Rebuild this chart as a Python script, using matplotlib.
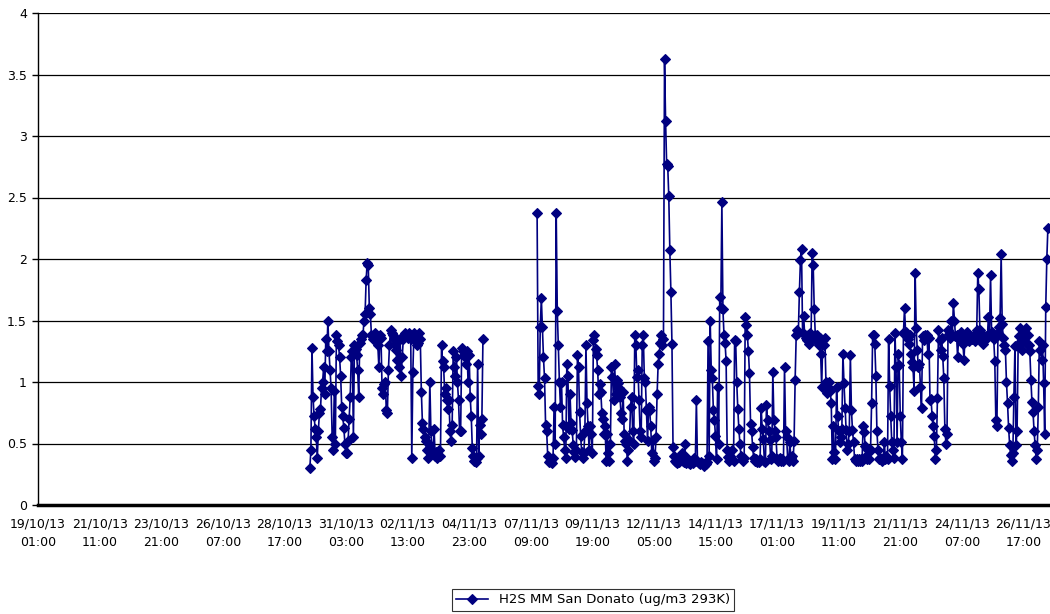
import matplotlib
matplotlib.use("Agg")
import matplotlib.pyplot as plt
import matplotlib.dates as mdates
from matplotlib.ticker import FixedLocator
import numpy as np
import pandas as pd

# hourly H2S readings (ug/m3), two recorded stretches separated by a gap
AXIS_START = "2013-10-19 01:00"
AXIS_HOURS = 953
TICK_STEP_HOURS = 58

SEG1_START = "2013-10-29 17:00"
SEG1_VALUES = [
    0.30, 0.45, 1.28, 0.88, 0.72, 0.62, 0.55, 0.38, 0.60, 0.75,
    0.78, 0.95, 1.00, 1.12, 0.90, 1.35, 1.25, 1.50, 1.25, 1.10,
    0.95, 0.55, 0.45, 0.93, 0.50, 1.38, 1.33, 1.30, 1.20, 1.05,
    0.80, 0.72, 0.63, 0.50, 0.42, 0.42, 0.52, 0.70, 0.88, 1.20,
    1.25, 0.55, 1.30, 1.27, 1.22, 1.10, 0.88, 1.32, 1.35, 1.38,
    1.38, 1.50, 1.55, 1.83, 1.97, 1.95, 1.60, 1.55, 1.38, 1.35,
    1.38, 1.40, 1.37, 1.35, 1.30, 1.12, 1.38, 1.36, 0.95, 0.90,
    0.98, 1.00, 0.77, 0.75, 1.10, 1.30, 1.42, 1.40, 1.38, 1.35,
    1.30, 1.26, 1.18, 1.33, 1.12, 1.35, 1.05, 1.20, 1.35, 1.38,
    1.40, 1.37, 1.36, 1.40, 1.38, 1.35,
    0.38,
    1.08, 1.40, 1.38, 1.35, 1.30, 1.32, 1.40, 1.35, 0.92, 0.67,
    0.62, 0.55, 0.52, 0.45, 0.38, 0.50, 1.00, 0.60, 0.45, 0.42,
    0.62, 0.40, 0.43, 0.38, 0.40, 0.45, 0.40, 1.30, 1.17, 1.12,
    0.90, 0.95, 0.85, 0.78, 0.85, 0.60, 0.52, 0.65, 1.25, 1.12,
    1.05, 1.20, 1.00, 0.85, 0.60, 0.60, 1.28, 1.25, 1.22, 1.20,
    1.15, 1.25, 1.00, 1.22, 0.88, 0.72, 0.46, 0.40, 0.36, 0.35,
    0.38, 1.15, 0.40, 0.65, 0.58, 0.70, 1.35,
]

SEG2_START = "2013-11-07 15:00"
SEG2_VALUES = [
    2.37, 0.97, 0.90, 1.45, 1.68, 1.45, 1.20, 1.03, 0.65, 0.60,
    0.40, 0.35, 0.36, 0.35, 0.34, 0.38, 0.80, 0.50, 2.37, 1.58,
    1.30, 1.00, 0.80, 1.00, 0.65, 0.55, 0.45, 0.38, 1.15, 1.05,
    0.62, 0.90, 0.67, 0.61, 0.49, 0.43, 0.39, 0.45, 1.22, 1.12,
    0.76, 0.56, 0.43, 0.38, 0.42, 0.60, 1.30, 0.83, 0.64, 0.45,
    0.64, 0.58, 0.42, 1.34, 1.38, 1.27, 1.22, 1.10, 0.90, 0.98,
    0.92, 0.75, 0.70, 0.58, 0.64, 0.36, 0.58, 0.42, 0.36, 0.50,
    1.12, 1.04, 0.85, 1.15, 0.90, 1.02, 0.99, 0.95, 0.88, 0.75,
    0.70, 0.92, 0.58, 0.52, 0.50, 0.36, 0.45, 0.53, 0.80, 0.88,
    0.60, 0.50, 1.38, 1.30, 1.04, 1.10, 0.85, 0.60, 0.55, 1.30,
    1.38, 1.03, 1.00, 0.77, 0.52, 0.80, 0.77, 0.64, 0.42, 0.53,
    0.36, 0.38, 0.55, 0.90, 1.15, 1.23, 1.32, 1.38, 1.30, 1.35,
    3.63, 3.12, 2.77, 2.76, 2.51, 2.07, 1.73, 1.31, 0.47, 0.40,
    0.36, 0.35, 0.34, 0.36, 0.35, 0.38, 0.42, 0.36, 0.35, 0.50,
    0.34, 0.38, 0.35, 0.34, 0.33, 0.35, 0.36, 0.34, 0.38, 0.36,
    0.85, 0.36, 0.34, 0.33, 0.35, 0.34, 0.33, 0.32, 0.34, 0.33,
    0.35, 1.33, 0.40, 1.50, 1.10, 1.03, 0.77, 0.69, 0.56, 0.37,
    0.96, 0.50, 1.69, 1.60, 2.46, 1.59, 1.38, 1.32, 1.17, 0.45,
    0.39, 0.36, 0.40, 0.38, 0.45, 0.36, 1.34, 1.33, 1.00, 0.78,
    0.62, 0.50, 0.40, 0.37, 0.36, 0.38, 1.53, 1.46, 1.38, 1.25,
    1.07, 0.66, 0.60, 0.47, 0.38, 0.36, 0.37, 0.35, 0.36, 0.35,
    0.37, 0.79, 0.62, 0.54, 0.36, 0.35,
    0.81, 0.69, 0.60, 0.53, 0.37, 0.40, 1.08, 0.69, 0.60, 0.55,
    0.37, 0.36, 0.37, 0.38, 0.36, 0.37, 0.36, 1.12, 0.60, 0.55,
    0.37, 0.36, 0.51, 0.38, 0.40, 0.36, 0.52, 1.02, 1.38, 1.42,
    1.40, 1.73, 1.99, 2.08, 1.40, 1.54, 1.38, 1.36, 1.34, 1.38,
    1.31, 1.40, 1.36, 2.05, 1.95, 1.59, 1.38, 1.34, 1.38, 1.30,
    1.36, 1.23, 0.96, 1.34, 1.30, 1.36, 1.00, 0.91, 0.96, 1.00,
    0.93, 0.83, 0.37, 0.64, 0.43, 0.37, 0.96, 0.72, 0.60, 0.51,
    0.55, 0.62, 1.23, 0.99, 0.79, 0.61, 0.45, 0.50, 0.60, 1.22,
    0.77, 0.61, 0.51, 0.37, 0.36, 0.37, 0.36, 0.37, 0.36, 0.37,
    0.36, 0.64, 0.59, 0.48, 0.40, 0.37, 0.45, 0.37, 0.45, 0.83,
    1.38, 1.38, 1.31, 1.05, 0.60, 0.45, 0.37, 0.38, 0.37, 0.36,
    0.38, 0.51, 0.37, 0.40, 0.37, 1.35, 0.97, 0.72, 0.51, 0.45,
    0.38, 1.40, 1.12, 0.51, 1.23, 1.14, 0.72, 0.51, 0.37, 1.40,
    1.60, 1.41, 1.39, 1.35, 1.31, 1.38, 1.23, 1.16, 1.12, 0.93,
    1.89, 1.44, 1.26, 1.12, 1.15, 0.96, 0.79, 1.37, 1.34, 1.38,
    1.36, 1.38, 1.23, 1.36, 0.85, 0.86, 0.72, 0.64, 0.56, 0.37,
    0.45, 0.87, 1.42, 1.34, 1.26, 1.36, 1.21, 1.03, 0.62, 0.50,
    0.58, 1.42, 1.39, 1.36, 1.50, 1.38, 1.64, 1.50, 1.37, 1.38,
    1.20, 1.37, 1.36, 1.41, 1.37, 1.31, 1.18, 1.38, 1.36, 1.41,
    1.37, 1.33, 1.37, 1.36, 1.35, 1.38, 1.33, 1.38, 1.42, 1.89,
    1.76, 1.42, 1.36, 1.38, 1.31, 1.37, 1.35, 1.37, 1.36, 1.53,
    1.38, 1.87, 1.41, 1.37, 1.35, 1.17, 0.69, 0.64, 1.40, 1.45,
    1.52, 2.04, 1.47, 1.36, 1.30, 1.26, 1.00, 0.83, 0.63, 0.49,
    0.41, 0.36, 0.42, 0.88, 1.29, 0.49, 0.60, 1.29, 1.37, 1.44,
    1.33, 1.26, 1.36, 1.40, 1.44, 1.31, 1.38, 1.30, 1.25, 1.02,
    0.84, 0.76, 0.60, 0.49, 0.37, 0.45, 0.80, 1.33, 1.26, 1.18,
    1.30, 0.99, 0.58, 1.61, 2.00, 2.25,
]

Y_TICKS = [0, 0.5, 1, 1.5, 2, 2.5, 3, 3.5, 4]
Y_TICK_LABELS = ["0", "0.5", "1", "1.5", "2", "2.5", "3", "3.5", "4"]
SERIES_LABEL = "H2S MM San Donato (ug/m3 293K)"

LINE_COLOR = "#000080"
FONT = "DejaVu Sans"


def build_series() -> pd.Series:
    start = pd.Timestamp(AXIS_START)
    index = pd.date_range(start, periods=AXIS_HOURS + 1, freq="h")
    s = pd.Series(np.nan, index=index)
    for seg_start, values in ((SEG1_START, SEG1_VALUES), (SEG2_START, SEG2_VALUES)):
        idx = pd.date_range(seg_start, periods=len(values), freq="h")
        s.loc[idx] = values
    return s


def main() -> None:
    series = build_series()
    start = pd.Timestamp(AXIS_START)
    end = start + pd.Timedelta(hours=AXIS_HOURS)

    fig = plt.figure(figsize=(10.5, 6.14), dpi=100)
    ax = fig.add_axes([38 / 1050, (614 - 505) / 614, 1 - 38 / 1050, (505 - 13) / 614])

    ax.plot(series.index.to_pydatetime(), series.values, color=LINE_COLOR, lw=1.2,
            marker="D", markersize=4.8, markeredgewidth=0.8,
            label=SERIES_LABEL, clip_on=True)

    ax.set_xlim(start.to_pydatetime(), end.to_pydatetime())
    ax.set_ylim(0, 4)

    ticks = pd.date_range(start, end, freq=f"{TICK_STEP_HOURS}h")
    ax.xaxis.set_major_locator(FixedLocator(mdates.date2num(ticks.to_pydatetime())))
    ax.xaxis.set_major_formatter(mdates.DateFormatter("%d/%m/%y\n%H:%M"))
    ax.set_yticks(Y_TICKS)
    ax.set_yticklabels(Y_TICK_LABELS)

    ax.grid(axis="y", color="#000000", lw=0.9)
    ax.set_axisbelow(True)
    for side in ("top", "right"):
        ax.spines[side].set_visible(False)
    ax.spines["left"].set_color("#000000")
    ax.spines["left"].set_linewidth(1.0)
    ax.spines["bottom"].set_color("#000000")
    ax.spines["bottom"].set_linewidth(2.5)

    ax.tick_params(axis="y", direction="out", length=4, width=1, pad=4,
                   labelsize=9, colors="#000000")
    ax.tick_params(axis="x", direction="out", length=0, width=1, pad=9,
                   labelsize=9, colors="#000000")
    for lbl in ax.get_xticklabels() + ax.get_yticklabels():
        lbl.set_family(FONT)
    for lbl in ax.get_xticklabels():
        lbl.set_linespacing(1.5)

    leg = fig.legend(loc="center", bbox_to_anchor=(593 / 1050, 1 - 600 / 614),
                     frameon=True, fancybox=False, handlelength=2.4,
                     prop={"family": FONT, "size": 9.5}, borderpad=0.35)
    leg.get_frame().set_edgecolor("#000000")
    leg.get_frame().set_linewidth(0.8)

    fig.savefig("out.png", dpi=100, facecolor="white")
    plt.close(fig)


if __name__ == "__main__":
    main()
